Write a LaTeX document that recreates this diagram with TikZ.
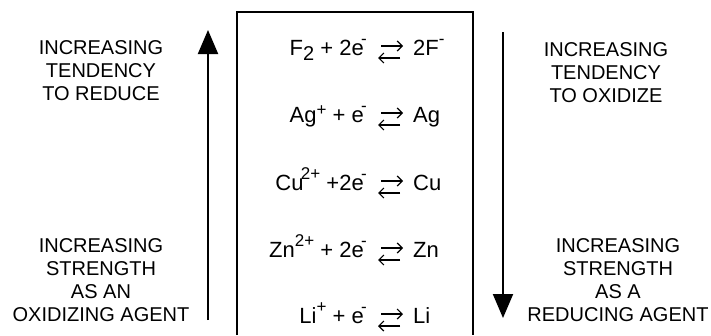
\documentclass[tikz,border=0pt]{standalone}
\usepackage{fontspec}
\setmainfont{Liberation Sans}
\usetikzlibrary{arrows.meta}
% raised charges and lowered indices
\newcommand{\up}[2][0.5em]{\raisebox{#1}{\fontsize{17}{17}\selectfont #2}}
\newcommand{\down}[1]{\raisebox{-0.25em}{\fontsize{20}{20}\selectfont #1}}
\newcommand{\elec}{e\kern-0.12em\up{-}}

\begin{document}
\begin{tikzpicture}[x=1pt, y=-1pt, font=\fontsize{20}{23}\selectfont,
    sidetext/.style={align=center, anchor=north, inner sep=0pt},
    lhs/.style={anchor=base east, inner sep=0pt, font=\fontsize{22}{23}\selectfont},
    rhs/.style={anchor=base west, inner sep=0pt, font=\fontsize{22}{23}\selectfont},
    halfarrow/.style={line width=1.2pt, -{Straight Barb[length=5pt,width=10pt]}},
    trend/.style={line width=2pt, -{Triangle[width=20pt,length=24pt]}}]
    \useasboundingbox (0,0) rectangle (711,335);

    % Box round the half-reactions
    \draw[line width=2.5pt] (237,335) -- (237,12) -- (473,12) -- (473,335);

    % Half-reactions: left side, equilibrium arrows, right side
    \foreach \n/\b/\left/\right in {
        fluorine/55/{F\down{2} + 2\elec}/{2F\up{-}},
        silver/122/{Ag\up[0.3em]{+} + \elec}/{Ag},
        copper/190/{Cu\kern-0.12em\up{2+} +2\elec}/{Cu},
        zinc/257/{Zn\up{2+} + 2\elec}/{Zn},
        lithium/323/{Li\up{+} + \elec}/{Li}} {
        \node[lhs] (\n-left) at (367,\b) {\left};
        \node[rhs] (\n-right) at (413,\b) {\right};
        \coordinate (\n-fwd-a) at (381,\b-9);
        \coordinate (\n-fwd-b) at (403,\b-9);
        \coordinate (\n-back-a) at (400,\b+3);
        \coordinate (\n-back-b) at (378,\b+3);
        \draw[halfarrow] (\n-fwd-a) -- (\n-fwd-b);
        \draw[halfarrow] (\n-back-a) -- (\n-back-b);
    }

    % Trend arrows
    \coordinate (upStart) at (208,320);
    \coordinate (upEnd) at (208,30);
    \draw[trend] (upStart) -- (upEnd);
    \coordinate (downStart) at (503,32);
    \coordinate (downEnd) at (503,318);
    \draw[trend] (downStart) -- (downEnd);

    % Side labels
    \node[sidetext] (reduceTend) at (101,40) {INCREASING\\TENDENCY\\TO REDUCE};
    \node[sidetext] (oxidAgent) at (101,238) {INCREASING\\STRENGTH\\AS AN\\OXIDIZING AGENT};
    \node[sidetext] (oxidTend) at (606,42) {INCREASING\\TENDENCY\\TO OXIDIZE};
    \node[sidetext] (reducAgent) at (618,238) {INCREASING\\STRENGTH\\AS A\\REDUCING AGENT};

\end{tikzpicture}
\end{document}
